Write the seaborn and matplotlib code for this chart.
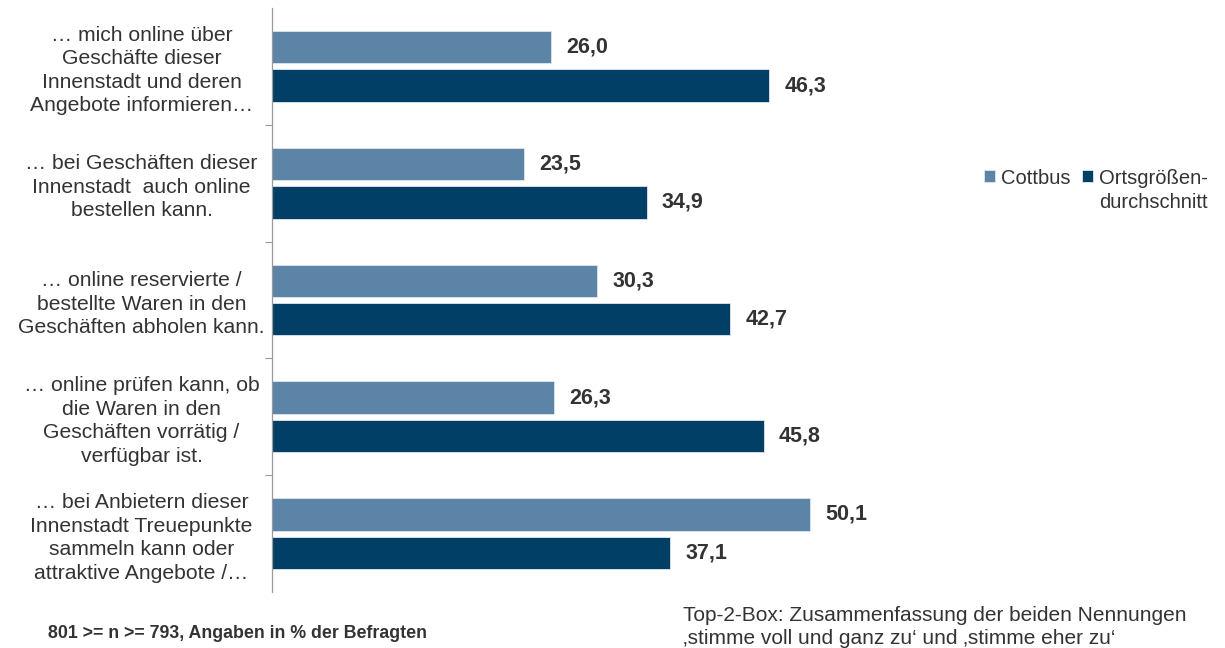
import matplotlib
matplotlib.use("Agg")
import matplotlib.pyplot as plt
import seaborn as sns
import pandas as pd

categories = [
    "… mich online über\nGeschäfte dieser\nInnenstadt und deren\nAngebote informieren…",
    "… bei Geschäften dieser\nInnenstadt  auch online\nbestellen kann.",
    "… online reservierte /\nbestellte Waren in den\nGeschäften abholen kann.",
    "… online prüfen kann, ob\ndie Waren in den\nGeschäften vorrätig /\nverfügbar ist.",
    "… bei Anbietern dieser\nInnenstadt Treuepunkte\nsammeln kann oder\nattraktive Angebote /…",
]
series_names = ["Cottbus", "Ortsgrößen-\ndurchschnitt"]
cottbus = [26.0, 23.5, 30.3, 26.3, 50.1]
ortsgroesse = [46.3, 34.9, 42.7, 45.8, 37.1]
colors = ["#5B84A7", "#023F67"]

rows = []
for cat, a, b in zip(categories, cottbus, ortsgroesse):
    rows.append({"Kategorie": cat, "Gruppe": series_names[0], "Wert": a})
    rows.append({"Kategorie": cat, "Gruppe": series_names[1], "Wert": b})
df = pd.DataFrame(rows)

sns.set_theme(style="white")
plt.rcParams["font.family"] = ["Liberation Sans", "DejaVu Sans"]
text_color = "#333333"

fig = plt.figure(figsize=(12.25, 6.48), dpi=100)
ax = fig.add_axes([272 / 1225, 1 - 592 / 648, 644 / 1225, 584 / 648])

sns.barplot(
    data=df, y="Kategorie", x="Wert", hue="Gruppe", order=categories,
    hue_order=series_names, palette=colors, saturation=1, orient="h",
    width=0.66, gap=0.16, edgecolor="#dfe6ee", linewidth=0.6,
    ax=ax, legend=True,
)

ax.set_xlim(0, 60)
ax.set_ylim(len(categories) - 0.5, -0.5)
ax.set_xlabel("")
ax.set_ylabel("")
ax.set_xticks([])

# value labels next to each bar
for container in ax.containers:
    labels = [f"{v:.1f}".replace(".", ",") for v in container.datavalues]
    ax.bar_label(container, labels=labels, padding=11, fontsize=15.5,
                 fontweight="bold", color=text_color)

# category labels centered left of the axis
ax.set_yticks(range(len(categories)))
ax.set_yticklabels(categories, fontsize=15.2, color=text_color,
                   linespacing=1.3)
for lab in ax.get_yticklabels():
    lab.set_horizontalalignment("center")
    lab.set_multialignment("center")
ax.tick_params(axis="y", which="major", length=0, pad=94)
ax.set_yticks([0.5, 1.5, 2.5, 3.5], minor=True)
ax.tick_params(axis="y", which="minor", length=5, width=0.8,
               color="#9a9a9a", direction="out", left=True)

for side in ["top", "right", "bottom"]:
    ax.spines[side].set_visible(False)
ax.spines["left"].set_color("#9a9a9a")
ax.spines["left"].set_linewidth(0.9)

# legend: markers sit on the first line of each label,
# further label lines continue underneath the text
handles, _ = ax.get_legend_handles_labels()
ax.legend_.remove()
first_lines = [name.split("\n")[0] for name in series_names]
leg = fig.legend(handles, first_lines, loc="center left",
                 bbox_to_anchor=(970 / 1225, 1 - 178 / 648),
                 ncol=2, frameon=False, fontsize=14.5, handlelength=0.55,
                 handleheight=0.55, handletextpad=0.3, columnspacing=0.55,
                 labelcolor=text_color, borderpad=0.2)
fig.canvas.draw()
renderer = fig.canvas.get_renderer()
inv = fig.transFigure.inverted()
for name, txt in zip(series_names, leg.get_texts()):
    extra = name.split("\n")[1:]
    if not extra:
        continue
    bb = txt.get_window_extent(renderer)
    x0, _ = inv.transform((bb.x0, 0))
    fig.text(x0, 1 - 202 / 648, "\n".join(extra), fontsize=14.5,
             color=text_color, ha="left", va="center")

fig.text(48 / 1225, 1 - 633 / 648, "801 >= n >= 793, Angaben in % der Befragten",
         fontsize=12.8, fontweight="bold", color=text_color, va="center")
fig.text(683 / 1225, 1 - 606 / 648,
         "Top-2-Box: Zusammenfassung der beiden Nennungen\n"
         "\u201astimme voll und ganz zu\u2018 und \u201astimme eher zu\u2018",
         fontsize=15, color=text_color, va="top", linespacing=1.3)

fig.savefig("out.png", dpi=100, facecolor="white")
